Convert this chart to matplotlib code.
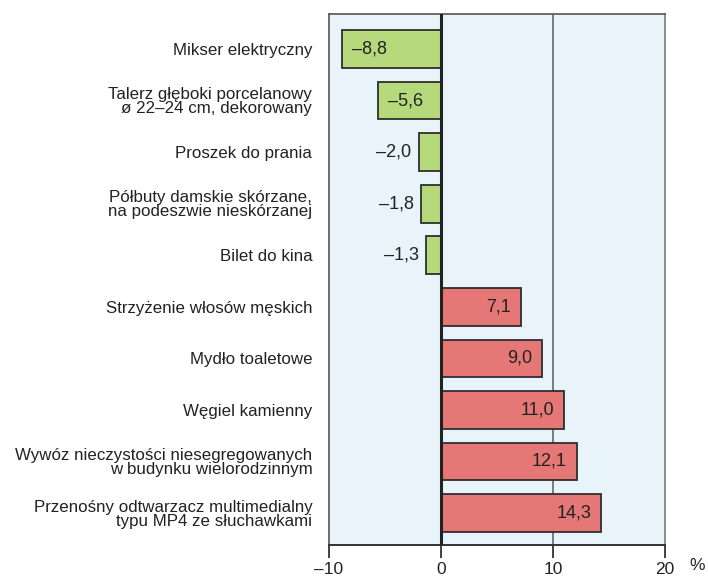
import matplotlib.pyplot as plt
from matplotlib.transforms import offset_copy

plt.rcParams['font.family'] = ['Liberation Sans', 'DejaVu Sans']

categories = [
    "Mikser elektryczny",
    "Talerz głęboki porcelanowy\nø 22–24 cm, dekorowany",
    "Proszek do prania",
    "Półbuty damskie skórzane,\nna podeszwie nieskórzanej",
    "Bilet do kina",
    "Strzyżenie włosów męskich",
    "Mydło toaletowe",
    "Węgiel kamienny",
    "Wywóz nieczystości niesegregowanych\nw budynku wielorodzinnym",
    "Przenośny odtwarzacz multimedialny\ntypu MP4 ze słuchawkami",
]
values = [-8.8, -5.6, -2.0, -1.8, -1.3, 7.1, 9.0, 11.0, 12.1, 14.3]
xticks = [-10, 0, 10, 20]
xtick_labels = ["–10", "0", "10", "20"]

green = "#b6d97c"
red = "#e57776"
edge = "#2e2e2e"

fig = plt.figure(figsize=(7.08, 5.77), dpi=100)
ax = fig.add_axes([0.4647, 0.0555, 0.4746, 0.9202])
ax.set_facecolor("#e8f3fa")

ypos = list(range(len(values)))
colors = [green if v < 0 else red for v in values]
ax.barh(ypos, values, height=0.73, color=colors, edgecolor=edge, linewidth=1.3, zorder=3)

ax.set_xlim(-10, 20)
ax.set_ylim(9.62, -0.68)

ax.axvline(0, color="#222222", linewidth=2.2, zorder=4)
ax.axvline(10, color="#7a7a7a", linewidth=1.4, zorder=1)

for s in ["top", "left", "right"]:
    ax.spines[s].set_color("#555555")
    ax.spines[s].set_linewidth(1.2)
ax.spines["right"].set_color("#7a7a7a")
ax.spines["bottom"].set_color("#333333")
ax.spines["bottom"].set_linewidth(1.4)

ax.set_xticks(xticks)
ax.set_xticklabels(xtick_labels, fontsize=12.5, color="#222222")
ax.tick_params(axis="x", direction="out", length=9, width=1.3, color="#333333", pad=3)
ax.set_yticks(ypos)
ax.set_yticklabels(categories, fontsize=12.2, color="#222222", linespacing=0.92)
ax.tick_params(axis="y", length=0, pad=12)

pct_tr = offset_copy(ax.transAxes, fig=fig, x=32, y=-13, units="dots")
ax.text(1.0, 0.0, "%", transform=pct_tr, fontsize=12.5, color="#222222",
        ha="center", va="top")

for y, v in zip(ypos, values):
    label = f"{abs(v):.1f}".replace(".", ",")
    if v < 0:
        label = "–" + label
        if v < -4:
            tr = offset_copy(ax.transData, fig=fig, x=10, y=0, units="dots")
            ax.text(v, y, label, transform=tr, ha="left", va="center", fontsize=13,
                    color="#222222", zorder=5)
        else:
            tr = offset_copy(ax.transData, fig=fig, x=-7, y=0, units="dots")
            ax.text(v, y, label, transform=tr, ha="right", va="center", fontsize=13,
                    color="#222222", zorder=5)
    else:
        tr = offset_copy(ax.transData, fig=fig, x=-10, y=0, units="dots")
        ax.text(v, y, label, transform=tr, ha="right", va="center", fontsize=13,
                color="#222222", zorder=5)

fig.savefig("out.png", dpi=100)
